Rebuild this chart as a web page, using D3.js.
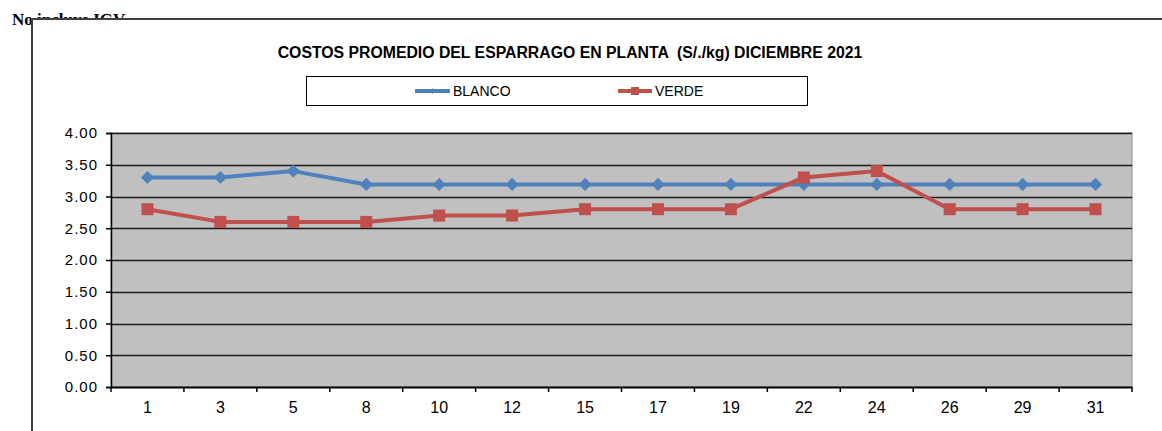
<!DOCTYPE html>
<html><head><meta charset="utf-8">
<script src="https://cdn.jsdelivr.net/npm/d3@7"></script>
<style>body{margin:0;background:#fff;overflow:hidden}</style>
</head><body>
<svg id="c" width="1162" height="431"></svg>
<script>
const categories = ["1","3","5","8","10","12","15","17","19","22","24","26","29","31"];
const blanco = [3.3,3.3,3.4,3.19,3.19,3.19,3.19,3.19,3.19,3.19,3.19,3.19,3.19,3.19];
const verde  = [2.8,2.6,2.6,2.6,2.7,2.7,2.8,2.8,2.8,3.3,3.4,2.8,2.8,2.8];
const yTicks = [0,0.5,1,1.5,2,2.5,3,3.5,4];
const seriesNames = ["BLANCO","VERDE"];

const svg = d3.select("#c");
const sans = "Liberation Sans, Arial, sans-serif";
// note text, partly hidden by chart frame
svg.append("text").attr("x",12).attr("y",25).attr("font-family","Liberation Serif, serif")
  .attr("font-weight","bold").attr("font-size",17).attr("fill","#000").text("No incluye IGV");
// chart frame
svg.append("rect").attr("x",32).attr("y",19).attr("width",1200).attr("height",500)
  .attr("fill","#fff").attr("stroke","#404040").attr("stroke-width",2);

svg.append("text").attr("x",570).attr("y",58).attr("text-anchor","middle")
  .attr("font-family",sans).attr("font-weight","bold").style("white-space","pre")
  .attr("font-size",15.8).text("COSTOS PROMEDIO DEL ESPARRAGO EN PLANTA  (S/./kg) DICIEMBRE 2021");

// legend
svg.append("rect").attr("x",306.5).attr("y",76.5).attr("width",501).attr("height",29)
  .attr("fill","#fff").attr("stroke","#000").attr("stroke-width",1);

const m = {l:111, r:1132, t:133, b:387};
const x = d3.scaleBand().domain(categories).range([m.l,m.r]);
const y = d3.scaleLinear().domain([0,4]).range([m.b,m.t]);

svg.append("rect").attr("x",m.l).attr("y",m.t).attr("width",m.r-m.l).attr("height",m.b-m.t)
  .attr("fill","#c0c0c0").attr("stroke","#8c8c8c").attr("stroke-width",1);

// gridlines
svg.append("g").selectAll("line").data(yTicks.filter(d=>d>0)).join("line")
  .attr("x1",m.l).attr("x2",m.r).attr("y1",d=>Math.round(y(d))+0.5).attr("y2",d=>Math.round(y(d))+0.5)
  .attr("stroke","#1a1a1a").attr("stroke-width",1.5);

// y axis
const ya = svg.append("g").attr("transform",`translate(${m.l},0)`)
  .call(d3.axisLeft(y).tickValues(yTicks).tickFormat(d3.format(".2f")).tickSize(5).tickPadding(8));
ya.select(".domain").attr("stroke","#000").attr("stroke-width",1.5);
ya.selectAll(".tick line").attr("stroke","#000").attr("stroke-width",1.5);
ya.selectAll("text").attr("font-family",sans).attr("font-size",15).attr("letter-spacing","1px").attr("fill","#000");

// x axis
const xa = svg.append("g").attr("transform",`translate(0,${m.b})`)
  .call(d3.axisBottom(x).tickSize(0).tickPadding(15));
xa.select(".domain").attr("stroke","#000").attr("stroke-width",2);
xa.selectAll("text").attr("font-family",sans).attr("font-size",16).attr("fill","#000");
// boundary ticks
const bounds = categories.map(c=>x(c)).concat([m.r]);
xa.selectAll("line.bt").data(bounds).join("line").attr("class","bt")
  .attr("x1",d=>d).attr("x2",d=>d).attr("y1",0).attr("y2",5).attr("stroke","#000").attr("stroke-width",1.5);

const cx = c => x(c)+x.bandwidth()/2;
const line = d3.line().x((d,i)=>cx(categories[i])).y(d=>y(d));
const colors = ["#4f81bd","#c0504d"];
const data = [blanco, verde];
data.forEach((s,k)=>{
  svg.append("path").datum(s).attr("d",line).attr("fill","none")
    .attr("stroke",colors[k]).attr("stroke-width",4).attr("stroke-linejoin","round");
});
// markers
svg.append("g").selectAll("path").data(blanco).join("path")
  .attr("d",d3.symbol(d3.symbolDiamond2,110))
  .attr("transform",(d,i)=>`translate(${cx(categories[i])},${y(d)})`).attr("fill",colors[0]);
svg.append("g").selectAll("rect").data(verde).join("rect")
  .attr("x",(d,i)=>cx(categories[i])-6).attr("y",d=>y(d)-6).attr("width",12).attr("height",12)
  .attr("fill",colors[1]);

// legend entries
const lg = [{x1:415,x2:450,tx:453},{x1:618,x2:652,tx:655}];
lg.forEach((L,k)=>{
  svg.append("line").attr("x1",L.x1).attr("x2",L.x2).attr("y1",91).attr("y2",91)
    .attr("stroke",colors[k]).attr("stroke-width",4);
  if(k===0) svg.append("path").attr("d",d3.symbol(d3.symbolDiamond2,20)).attr("transform",`translate(${(L.x1+L.x2)/2},91)`).attr("fill",colors[0]);
  else svg.append("rect").attr("x",(L.x1+L.x2)/2-4).attr("y",87).attr("width",8).attr("height",8).attr("fill",colors[1]);
  svg.append("text").attr("x",L.tx).attr("y",96).attr("font-family",sans)
    .attr("font-size",14).text(seriesNames[k]);
});
</script>
</body></html>
